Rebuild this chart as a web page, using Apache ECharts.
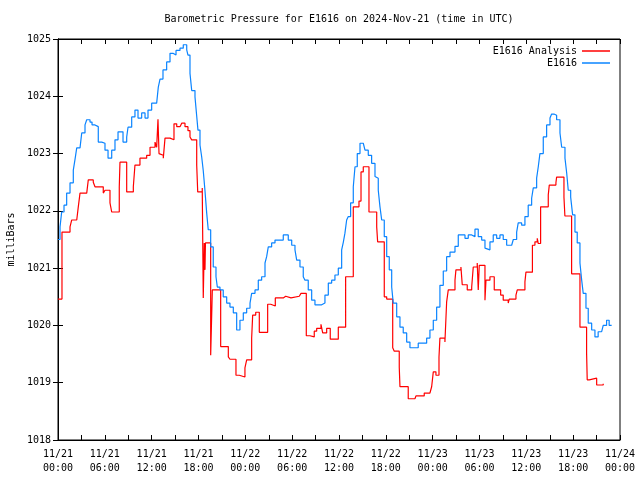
<!DOCTYPE html>
<html>
<head>
<meta charset="utf-8">
<script src="https://cdn.jsdelivr.net/npm/echarts@6/dist/echarts.min.js"></script>
<style>
html,body{margin:0;padding:0;background:#fff;}
#chart{width:640px;height:480px;}
</style>
</head>
<body>
<div id="chart"></div>
<script>
// Hours since 2024-11-21 00:00 UTC
const xTickLabels = ['11/21\n00:00','11/21\n06:00','11/21\n12:00','11/21\n18:00','11/22\n00:00','11/22\n06:00','11/22\n12:00','11/22\n18:00','11/23\n00:00','11/23\n06:00','11/23\n12:00','11/23\n18:00','11/24\n00:00'];
const yTickValues = [1018,1019,1020,1021,1022,1023,1024,1025];

const analysisHours = [0,0.51,1.54,1.75,2.40,2.60,2.82,3.68,3.88,4.52,4.74,5.80,6.02,6.66,6.88,7.85,7.94,8.80,9.65,9.86,10.50,11.36,11.79,12.43,12.64,12.81,12.94,13.16,13.49,13.71,14.35,14.86,15.21,15.63,15.85,16.27,16.65,16.91,17.13,17.77,17.90,18.48,18.61,18.74,18.83,18.89,19.56,19.77,20.84,21.82,22.03,22.80,23.22,23.95,24.17,24.81,24.94,25.33,25.79,26.86,27.25,27.84,28.86,29.17,29.85,30.91,31.13,31.81,32.28,32.83,33.14,33.69,33.91,34.42,34.88,35.91,36.85,37.83,38.56,38.82,39.11,39.84,40.83,40.95,41.80,42.11,42.88,43.08,43.72,43.81,44.87,45.73,45.86,46.92,47.65,47.87,48.08,48.42,48.81,48.93,49.57,49.79,50.00,50.86,50.98,51.62,51.79,52.43,53.00,53.20,53.71,53.84,53.97,54.70,54.83,55.34,55.89,56.71,57.04,57.68,57.81,58.67,58.84,59.82,59.95,60.78,61.10,61.40,61.53,61.83,62.81,62.94,63.79,63.88,64.82,64.94,65.80,66.87,67.72,67.80,68.06,69.01,69.85];
const analysisValues = [1020.46,1021.63,1021.72,1021.84,1021.87,1022.07,1022.31,1022.28,1022.54,1022.50,1022.42,1022.31,1022.36,1022.14,1021.98,1022.42,1022.85,1022.33,1022.42,1022.80,1022.92,1022.97,1023.11,1023.20,1023.11,1023.60,1023.00,1022.97,1022.92,1023.27,1023.24,1023.52,1023.47,1023.45,1023.53,1023.47,1023.40,1023.29,1023.24,1022.80,1022.33,1022.40,1020.48,1021.44,1020.97,1021.44,1019.48,1020.62,1019.63,1019.45,1019.41,1019.13,1019.10,1019.26,1019.40,1019.78,1020.18,1020.23,1019.88,1020.37,1020.34,1020.48,1020.51,1020.48,1020.51,1020.48,1020.56,1019.82,1019.80,1019.90,1019.95,1020.02,1019.87,1019.95,1019.76,1019.97,1020.85,1022.07,1022.17,1022.68,1022.77,1021.98,1021.72,1021.46,1020.50,1020.46,1019.61,1019.55,1019.27,1018.93,1018.72,1018.70,1018.77,1018.82,1018.79,1018.93,1019.19,1019.13,1019.45,1019.78,1019.71,1020.41,1020.62,1020.79,1020.97,1021.02,1020.71,1020.62,1020.67,1021.02,1021.09,1020.62,1021.05,1020.44,1020.79,1020.85,1020.62,1020.53,1020.44,1020.39,1020.46,1020.53,1020.62,1020.76,1020.93,1021.40,1021.46,1021.52,1021.43,1022.07,1022.28,1022.45,1022.49,1022.59,1022.24,1021.91,1020.90,1019.97,1019.52,1019.05,1019.08,1018.96,1018.98];

const stationHours = [0,0.26,0.47,0.77,1.11,1.54,1.96,2.18,2.40,2.82,3.04,3.46,3.68,4.10,4.36,4.74,5.16,5.60,6.02,6.41,6.88,7.30,7.69,8.07,8.33,8.80,8.97,9.44,9.86,10.25,10.72,11.15,11.53,12.00,12.64,12.85,13.07,13.45,13.92,14.35,14.73,15.12,15.63,16.05,16.49,16.65,16.91,17.13,17.55,17.74,17.93,18.19,18.41,18.61,18.83,19.05,19.25,19.56,19.89,20.24,20.41,20.75,21.17,21.61,22.03,22.46,22.89,23.31,23.74,24.17,24.60,24.81,25.24,25.66,26.09,26.52,26.73,26.94,27.37,27.80,28.86,29.50,29.94,30.36,30.58,31.00,31.42,31.64,32.06,32.50,32.92,33.78,34.20,34.63,35.06,35.48,35.91,36.34,36.55,36.76,36.98,37.19,37.49,37.83,38.05,38.34,38.69,39.11,39.33,39.75,40.18,40.61,40.83,41.03,41.25,41.47,41.80,42.11,42.44,42.75,42.95,43.39,43.81,44.23,44.67,45.09,46.15,47.23,47.65,48.08,48.51,48.93,49.36,49.79,50.22,50.86,51.28,52.14,52.56,53.00,53.42,53.84,54.28,54.70,54.92,55.34,55.76,56.20,56.62,57.04,57.48,58.12,58.33,58.76,58.96,59.40,59.82,60.24,60.68,60.89,61.32,61.53,61.74,62.17,62.60,63.03,63.24,63.54,63.88,64.31,64.53,64.95,65.17,65.37,65.68,65.93,66.23,66.52,66.87,67.09,67.29,67.64,67.93,68.37,68.79,69.20,69.65,69.85,70.28,70.61,70.93];
const stationValues = [1021.50,1021.72,1021.98,1022.10,1022.31,1022.49,1022.71,1022.90,1023.10,1023.11,1023.36,1023.50,1023.59,1023.55,1023.50,1023.47,1023.20,1023.18,1023.06,1022.92,1023.06,1023.24,1023.38,1023.38,1023.20,1023.29,1023.46,1023.64,1023.76,1023.62,1023.71,1023.62,1023.76,1023.88,1023.90,1024.16,1024.30,1024.46,1024.60,1024.75,1024.72,1024.80,1024.84,1024.90,1024.81,1024.72,1024.40,1024.10,1023.99,1023.70,1023.41,1023.15,1022.94,1022.70,1022.35,1021.96,1021.67,1021.37,1021.02,1020.85,1020.67,1020.62,1020.50,1020.39,1020.32,1020.22,1019.92,1020.09,1020.22,1020.30,1020.39,1020.56,1020.62,1020.79,1020.85,1021.09,1021.20,1021.37,1021.44,1021.49,1021.58,1021.49,1021.40,1021.32,1021.14,1021.02,1020.85,1020.79,1020.62,1020.44,1020.36,1020.39,1020.53,1020.74,1020.79,1020.88,1021.00,1021.32,1021.45,1021.61,1021.84,1021.90,1022.14,1022.42,1022.77,1023.00,1023.18,1023.18,1023.06,1022.97,1022.83,1022.60,1022.57,1022.36,1022.07,1021.84,1021.55,1021.20,1020.97,1020.67,1020.39,1020.15,1019.97,1019.87,1019.71,1019.61,1019.69,1019.78,1019.92,1020.09,1020.32,1020.70,1020.95,1021.20,1021.28,1021.38,1021.58,1021.52,1021.58,1021.55,1021.68,1021.55,1021.49,1021.35,1021.32,1021.46,1021.58,1021.52,1021.58,1021.50,1021.40,1021.40,1021.50,1021.63,1021.79,1021.75,1021.90,1022.10,1022.22,1022.40,1022.57,1022.77,1023.00,1023.29,1023.50,1023.62,1023.69,1023.67,1023.59,1023.36,1023.11,1022.92,1022.66,1022.36,1022.24,1021.93,1021.63,1021.44,1021.09,1020.79,1020.56,1020.30,1020.04,1019.92,1019.80,1019.89,1019.92,1020.00,1020.09,1020.00,1020.00];

const FONT = 'DejaVu Sans Mono';
const pairs = (xs, ys) => xs.map((x, i) => [x, ys[i]]);

const chart = echarts.init(document.getElementById('chart'), null, {renderer: 'canvas'});
const tick = {show: true, inside: true, length: 5, lineStyle: {color: '#000', width: 1}};
const legendText = {fontFamily: FONT, fontSize: 10, color: '#000'};
chart.setOption({
  animation: false,
  backgroundColor: '#fff',
  title: {
    text: 'Barometric Pressure for E1616 on 2024-Nov-21 (time in UTC)',
    left: 339, top: 14, textAlign: 'center', padding: 0,
    textStyle: {fontFamily: FONT, fontSize: 10, fontWeight: 'normal', color: '#000'}
  },
  legend: [
    {data: ['E1616 Analysis'], orient: 'vertical', right: 30, top: 46, align: 'right', padding: 0,
     icon: 'rect', itemWidth: 28, itemHeight: 1.5, itemGap: 6, textStyle: legendText},
    {data: ['E1616'], orient: 'vertical', right: 30, top: 58, align: 'right', padding: 0,
     icon: 'rect', itemWidth: 28, itemHeight: 1.5, itemGap: 6, textStyle: legendText}
  ],
  grid: {left: 58, right: 20, top: 39, bottom: 40, containLabel: false, outerBoundsMode: 'none',
         show: true, borderColor: '#000', borderWidth: 1, backgroundColor: 'transparent'},
  xAxis: [
    {type: 'value', min: 0, max: 72, interval: 3, position: 'bottom',
     axisLine: {show: true, lineStyle: {color: '#000'}}, axisTick: tick, splitLine: {show: false},
     axisLabel: {color: '#000', fontFamily: FONT, fontSize: 10, lineHeight: 14, margin: 7,
       formatter: v => (Math.round(v) % 6 === 0 ? xTickLabels[Math.round(v) / 6] : '')}},
    {type: 'value', min: 0, max: 72, interval: 3, position: 'top',
     axisLine: {show: true, lineStyle: {color: '#000'}}, axisTick: tick, splitLine: {show: false},
     axisLabel: {show: false}}
  ],
  yAxis: [
    {type: 'value', min: yTickValues[0], max: yTickValues[yTickValues.length - 1], interval: 1, position: 'left',
     name: 'milliBars', nameLocation: 'middle', nameRotate: 90, nameGap: 41,
     nameTextStyle: {fontFamily: FONT, fontSize: 10, color: '#000'},
     axisLine: {show: true, lineStyle: {color: '#000'}}, axisTick: tick, splitLine: {show: false},
     axisLabel: {color: '#000', fontFamily: FONT, fontSize: 10, margin: 7, formatter: v => String(v)}},
    {type: 'value', min: yTickValues[0], max: yTickValues[yTickValues.length - 1], interval: 1, position: 'right',
     axisLine: {show: true, lineStyle: {color: '#000'}}, axisTick: tick, splitLine: {show: false},
     axisLabel: {show: false}}
  ],
  series: [
    {name: 'E1616 Analysis', type: 'line', step: 'end', xAxisIndex: 0, yAxisIndex: 0,
     showSymbol: false, symbol: 'none', color: '#ff0000',
     lineStyle: {color: '#ff0000', width: 1.2}, itemStyle: {color: '#ff0000'},
     data: pairs(analysisHours, analysisValues)},
    {name: 'E1616', type: 'line', step: 'end', xAxisIndex: 0, yAxisIndex: 0,
     showSymbol: false, symbol: 'none', color: '#0a84ff',
     lineStyle: {color: '#0a84ff', width: 1.2}, itemStyle: {color: '#0a84ff'},
     data: pairs(stationHours, stationValues)}
  ]
});
</script>
</body>
</html>
